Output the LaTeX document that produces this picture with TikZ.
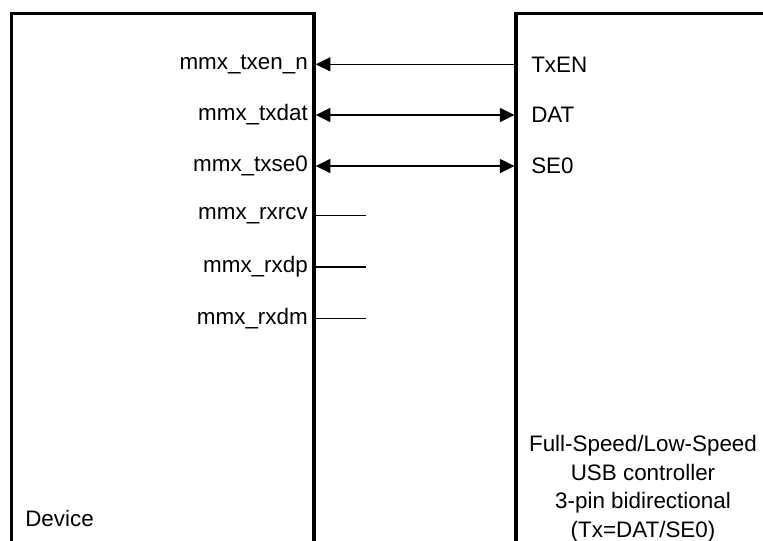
\documentclass[tikz,border=0pt]{standalone}
\usepackage{fontspec}
\setmainfont{Liberation Sans}
\usetikzlibrary{arrows.meta}
\begin{document}
\begin{tikzpicture}[x=0.75pt,y=-0.75pt,
  box/.style={line width=2.6pt},
  wire/.style={line width=1.1pt},
  hd/.tip={Triangle[length=11pt,width=10.5pt]},
  lbl/.style={font=\fontsize{16.8}{20}\selectfont, inner sep=0pt},
  pinl/.style={lbl, anchor=east},
  pinr/.style={lbl, anchor=west}]
\useasboundingbox (0,0) rectangle (763,540);
\begin{scope}
\clip (0,0) rectangle (763,540);
% Device box (open at bottom)
\draw[box] (11.5,560) -- (11.5,13.5) -- (314,13.5) -- (314,560);
% Controller box (open at bottom and right)
\draw[box] (516,560) -- (516,13.5) -- (790,13.5);
\end{scope}
% pin coordinates on device
\coordinate (dA) at (315.7,64.3);
\coordinate (dB) at (315.7,115);
\coordinate (dC) at (315.7,166);
\coordinate (dD) at (315,215.5);
\coordinate (dE) at (315,267);
\coordinate (dF) at (315,318.7);
\coordinate (sD) at (366,215.5);
\coordinate (sE) at (366,267);
\coordinate (sF) at (366,318.7);
% pin coordinates on controller
\coordinate (cA) at (514.5,64.3);
\coordinate (cB) at (514.5,115);
\coordinate (cC) at (514.5,166);
% labels
\node[pinl] (lA) at (308,64.3) {mmx\_txen\_n};
\node[pinl] (lB) at (308,115) {mmx\_txdat};
\node[pinl] (lC) at (308,166) {mmx\_txse0};
\node[pinl] (lD) at (308,215.5) {mmx\_rxrcv};
\node[pinl] (lE) at (308,267) {mmx\_rxdp};
\node[pinl] (lF) at (308,318.7) {mmx\_rxdm};
\node[pinr] (rA) at (531,64.3) {TxEN};
\node[pinr] (rB) at (531,115) {DAT};
\node[pinr] (rC) at (531,166) {SE0};
\node[lbl, anchor=base west] (dev) at (25,526) {Device};
\node[lbl, align=center, anchor=north, font=\fontsize{16.8}{21.4}\selectfont] (ctl) at (643,435) {Full-Speed/Low-Speed\\USB controller\\3-pin bidirectional\\(Tx=DAT/SE0)};
% connectors
\draw[wire, -hd] (cA) -- (dA);
\draw[wire, hd-hd] (dB) -- (cB);
\draw[wire, hd-hd] (dC) -- (cC);
\draw[wire] (dD) -- (sD);
\draw[wire] (dE) -- (sE);
\draw[wire] (dF) -- (sF);
\end{tikzpicture}
\end{document}
